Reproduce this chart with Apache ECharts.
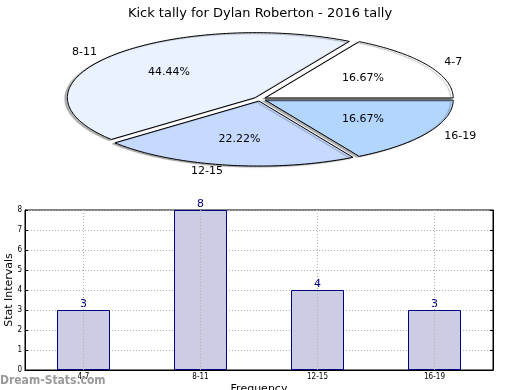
<!DOCTYPE html>
<html><head><meta charset="utf-8">
<script src="https://cdn.jsdelivr.net/npm/echarts@6/dist/echarts.min.js"></script>
<style>html,body{margin:0;padding:0;background:#fff}#c{width:520px;height:390px}</style>
</head><body><div id="c"></div>
<script>
var titleText = 'Kick tally for Dylan Roberton - 2016 tally';
var categories = ['4-7', '8-11', '12-15', '16-19'];
var values = [3, 8, 4, 3];
var pieColors = ['#ffffff', '#eaf1ff', '#c6d9ff', '#b3d6ff'];
var yTicks = [0, 1, 2, 3, 4, 5, 6, 7, 8];
var yName = 'Stat Intervals';
var xName = 'Frequency';

var FONT = '"DejaVu Sans", sans-serif';
var FONT_C = '"DejaVu Sans Condensed", "DejaVu Sans", sans-serif';
var total = values.reduce(function (a, b) { return a + b; }, 0);
var PIE = { cx: 260, cy: 99, rx: 188, ry: 65, explode: 6 };

function pt(cx, cy, a, f) {
  return [cx + f * PIE.rx * Math.cos(a), cy - f * PIE.ry * Math.sin(a)];
}

function renderSlice(params, api) {
  var idx = params.dataIndex;
  var v = api.value(0);
  var before = 0;
  for (var i = 0; i < idx; i++) before += values[i];
  var a0 = before / total * Math.PI * 2;
  var a1 = (before + v) / total * Math.PI * 2;
  var mid = (a0 + a1) / 2;
  var cx = PIE.cx + PIE.explode * Math.cos(mid);
  var cy = PIE.cy - PIE.explode * (PIE.ry / PIE.rx) * Math.sin(mid);
  var pts = [[cx, cy]];
  var n = Math.max(8, Math.ceil((a1 - a0) / 0.02));
  for (var k = 0; k <= n; k++) {
    pts.push(pt(cx, cy, a0 + (a1 - a0) * k / n, 1));
  }
  var lp = pt(cx, cy, mid, 1.1);
  var ip = pt(cx, cy, mid, 0.6);
  var right = Math.cos(mid) >= 0;
  return {
    type: 'group',
    children: [
      { type: 'polygon', shape: { points: pts },
        style: { fill: pieColors[idx], stroke: '#000', lineWidth: 1,
          shadowColor: 'rgba(0,0,0,0.3)', shadowBlur: 1, shadowOffsetX: -2.5, shadowOffsetY: 1 } },
      { type: 'text', x: lp[0], y: lp[1],
        style: { text: categories[idx], fill: '#000', font: '11px ' + FONT,
          align: right ? 'left' : 'right', verticalAlign: 'middle' } },
      { type: 'text', x: ip[0], y: ip[1],
        style: { text: (v / total * 100).toFixed(2) + '%', fill: '#000', font: '11px ' + FONT,
          align: 'center', verticalAlign: 'middle' } }
    ]
  };
}

var chart = echarts.init(document.getElementById('c'), null, { renderer: 'canvas' });
chart.setOption({
  animation: false,
  textStyle: { fontFamily: FONT },
  title: { text: titleText, left: 'center', top: 2,
    textStyle: { fontSize: 13, fontWeight: 'normal', color: '#000', fontFamily: FONT } },
  grid: { left: 25, right: 27, top: 210, bottom: 20, containLabel: false, outerBoundsMode: 'none',
    show: true, borderColor: '#000', borderWidth: 1 },
  xAxis: {
    type: 'category', data: categories,
    axisLine: { lineStyle: { color: '#000' } },
    axisTick: { show: true, alignWithLabel: true, inside: true, length: 3, lineStyle: { color: '#000' } },
    axisLabel: { fontSize: 8, color: '#000', margin: 3, fontFamily: FONT_C },
    splitLine: { show: false }
  },
  yAxis: [{
    type: 'value', min: 0, max: 8, interval: 1,
    axisLine: { show: true, lineStyle: { color: '#000' } },
    axisTick: { show: true, inside: true, length: 3, lineStyle: { color: '#000' } },
    axisLabel: { fontSize: 8, color: '#000', margin: 3, fontFamily: FONT_C,
      formatter: function (v) { return yTicks.indexOf(v) >= 0 ? String(v) : ''; } },
    splitLine: { show: true, lineStyle: { color: '#b0b0b0', type: [1, 2], width: 1 } }
  }, {
    type: 'value', min: 0, max: 8, interval: 1, position: 'right',
    axisLine: { show: true, lineStyle: { color: '#000' } },
    axisTick: { show: true, inside: true, length: 3, lineStyle: { color: '#000' } },
    axisLabel: { show: false }, splitLine: { show: false }
  }],
  graphic: [{
    type: 'text', x: 9, y: 290, rotation: Math.PI / 2,
    style: { text: yName, fill: '#000', font: '11px ' + FONT, align: 'center', verticalAlign: 'middle' }
  }, {
    type: 'text', x: 259, y: 389,
    style: { text: xName, fill: '#000', font: '11px ' + FONT, align: 'center', verticalAlign: 'middle' }
  }, {
    type: 'text', x: 0, y: 381,
    style: { text: 'Dream-Stats.com', fill: 'rgba(120,120,120,0.75)', font: 'bold 12px ' + FONT_C,
      align: 'left', verticalAlign: 'middle' }
  }],
  series: [{
    type: 'bar', data: values, barWidth: 53,
    itemStyle: { color: '#cccce4', borderColor: '#000080', borderWidth: 1 },
    label: { show: true, position: 'top', distance: 0, color: '#000080', fontSize: 11, fontFamily: FONT },
    markLine: {
      silent: true, symbol: 'none', label: { show: false },
      lineStyle: { color: '#b0b0b0', type: [1, 2], width: 1 },
      data: categories.map(function (c) { return { xAxis: c }; })
    },
    z: 2
  }, {
    type: 'custom', coordinateSystem: 'none', renderItem: renderSlice,
    data: values.map(function (v) { return [v]; })
  }]
});
</script></body></html>
